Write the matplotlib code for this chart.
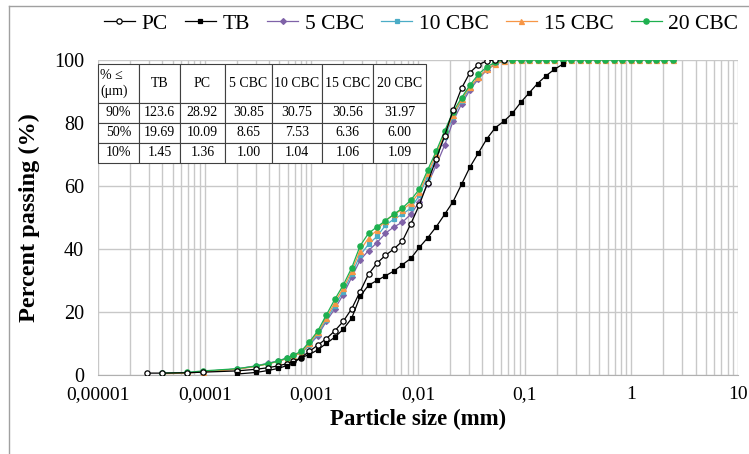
import numpy as np
import matplotlib.pyplot as plt
from matplotlib.lines import Line2D
from matplotlib.ticker import LogLocator, NullFormatter

plt.rcParams['font.family'] = ['Liberation Serif', 'DejaVu Serif']

nan = np.nan

# particle size classes (mm)
size_mm = [2.9e-5, 4.0e-5, 6.8e-5, 9.6e-5, 2.0e-4, 3.0e-4, 3.9e-4, 4.9e-4, 5.9e-4, 6.8e-4,
           0.00080, 0.00096, 0.00115, 0.00138, 0.00166, 0.00199, 0.00239, 0.00287, 0.00344, 0.00413,
           0.00496, 0.00595, 0.00714, 0.00857, 0.0103, 0.0123, 0.0148, 0.0178, 0.0213, 0.0256,
           0.0307, 0.0369, 0.0443, 0.0531, 0.0637, 0.0765, 0.0918, 0.110, 0.132, 0.159,
           0.190, 0.229, 0.274, 0.329, 0.395, 0.474, 0.569, 0.683, 0.819, 0.983,
           1.18, 1.42, 1.70, 2.04, 2.45]

# cumulative percent passing
pc = [0.6, 0.6, 0.7, 0.9, 1.3, 1.8, 2.3, 2.9, 3.6, 4.3,
      5.5, 7.5, 9.5, 11.5, 14, 17, 21, 26.5, 32, 35.5,
      38, 40, 42.5, 48, 54, 61, 68.5, 76, 84, 91,
      96, 98.5, 99.7, 100, 100] + [nan] * 20
tb = [nan, nan, nan, nan, 0.3, 0.8, 1.4, 2.1, 3.0, 3.9,
      5.5, 6.5, 8, 10, 12, 14.5, 18, 25, 28.5, 30,
      31.5, 33, 35, 37, 40.5, 43.5, 47, 51, 55, 60.5,
      66, 70.5, 75, 78.5, 80.5, 83, 86.5, 89.5, 92.5, 95,
      97, 98.7] + [nan] * 13
cbc5 = [nan, 0.5, 0.7, 1.1, 1.9, 2.9, 3.7, 4.5, 5.4, 6.2,
        7, 9.5, 12.5, 17, 21, 25.5, 31, 36.5, 39.5, 42,
        45, 47, 48.5, 51, 55, 60.5, 66.5, 73, 80.5, 86,
        90.5, 94, 96.8, 98.7, 99.6] + [100] * 20
cbc10 = [nan, 0.5, 0.7, 1.1, 1.9, 2.8, 3.6, 4.4, 5.3, 6.1,
         7, 9.5, 13, 17.5, 22, 26.5, 32, 38, 41.5, 44,
         47.5, 49.5, 51, 53, 57, 63, 69, 75.5, 82, 87,
         91, 94.5, 97, 98.8, 99.7] + [100] * 20
cbc15 = [nan, 0.4, 0.6, 1.0, 1.8, 2.7, 3.5, 4.3, 5.2, 6.0,
         7, 10, 13.5, 18, 23, 27.5, 33, 39.5, 43.5, 46,
         49, 51, 52.5, 54.5, 58, 64, 70, 76.5, 82.5, 87.5,
         91.5, 94.5, 97, 98.8, 99.6] + [100] * 20
cbc20 = [nan, 0.6, 0.8, 1.3, 2.0, 2.8, 3.6, 4.4, 5.4, 6.3,
         7.5, 10.5, 14, 19, 24, 28.5, 34, 41, 45, 47,
         49, 51, 53, 55.5, 59, 65, 71, 77.5, 83.5, 88,
         92, 95.5, 97.8, 99.3, 100] + [100] * 20

# D90 / D50 / D10 table (um)
table_cols = ['% \u2264\n(\u03bcm)', 'TB', 'PC', '5 CBC', '10 CBC', '15 CBC', '20 CBC']
table_rows = [['90%', '123.6', '28.92', '30.85', '30.75', '30.56', '31.97'],
              ['50%', '19.69', '10.09', '8.65', '7.53', '6.36', '6.00'],
              ['10%', '1.45', '1.36', '1.00', '1.04', '1.06', '1.09']]

x_ticks = [1e-5, 1e-4, 1e-3, 1e-2, 1e-1, 1, 10]
x_tick_labels = ['0,00001', '0,0001', '0,001', '0,01', '0,1', '1', '10']
y_ticks = [0, 20, 40, 60, 80, 100]

fig = plt.figure(figsize=(7.49, 4.54), dpi=100)
ax = fig.add_axes([0.1308, 0.174, 0.8545, 0.694])

series = [
    ('5 CBC', cbc5, '#7F62A8', 'D', '#7F62A8', 3.0),
    ('10 CBC', cbc10, '#4BACC6', 's', '#4BACC6', 3.2),
    ('15 CBC', cbc15, '#F79646', '^', '#F79646', 3.6),
    ('20 CBC', cbc20, '#1DB04F', 'o', '#1DB04F', 3.8),
    ('PC', pc, 'black', 'o', 'white', 3.8),
    ('TB', tb, 'black', 's', 'black', 3.2),
]
lines = {}
for name, vals, col, mk, face, ms in series:
    ln, = ax.plot(size_mm, vals, color=col, lw=0.9, marker=mk, ms=ms,
                  mfc=face, mec=col, mew=0.9, zorder=3)
    lines[name] = ln

ax.set_xscale('log')
ax.set_xlim(1e-5, 10)
ax.set_ylim(0, 100)
ax.set_xticks(x_ticks)
ax.set_xticklabels(x_tick_labels, fontsize=14)
ax.xaxis.set_minor_locator(LogLocator(base=10, subs=range(2, 10)))
ax.xaxis.set_minor_formatter(NullFormatter())
ax.set_yticks(y_ticks)
ax.set_yticklabels([str(v) for v in y_ticks], fontsize=14.5)
ax.tick_params(which='both', length=0)
ax.tick_params(axis='x', pad=8)
ax.tick_params(axis='y', pad=10)

ax.grid(which='both', axis='x', color='#C8C8C8', lw=1.0)
ax.grid(which='major', axis='y', color='#C8C8C8', lw=1.0)
ax.set_axisbelow(True)
for side in ['top', 'right', 'left']:
    ax.spines[side].set_visible(False)
ax.spines['bottom'].set_color('#B0B0B0')

ax.set_xlabel('Particle size (mm)', fontsize=16.5, fontweight='bold', labelpad=4)
ax.set_ylabel('Percent passing (%)', fontsize=17.5, fontweight='bold', labelpad=10)

# summary table in the upper left corner
tab = ax.table(cellText=table_rows, colLabels=table_cols, cellLoc='center',
               bbox=[0.0, 0.673, 0.5125, 0.314], zorder=5)
tab.auto_set_font_size(False)
col_w = [41, 41, 45, 47, 50, 51, 53]
for (r, c), cell in tab.get_celld().items():
    cell.set_width(col_w[c])
    cell.set_height(39 if r == 0 else 20)
    cell.set_edgecolor('#404040')
    cell.set_linewidth(0.8)
    cell.set_facecolor('white')
    cell.get_text().set_fontsize(10)
    if r == 0 and c == 0:
        cell.get_text().set_ha('left')
        cell.PAD = 0.06

order = ['PC', 'TB', '5 CBC', '10 CBC', '15 CBC', '20 CBC']
fig.legend([lines[k] for k in order], order, loc='center', ncol=6,
           bbox_to_anchor=(0.562, 0.948), frameon=False, fontsize=15.5,
           handlelength=1.45, handletextpad=0.3, columnspacing=0.8,
           borderpad=0.2)

# chart frame
fig.add_artist(Line2D([9 / 749, 9 / 749], [0, 1 - 6 / 454], color='#A0A0A0', lw=1.0))
fig.add_artist(Line2D([9 / 749, 1], [1 - 6 / 454, 1 - 6 / 454], color='#A0A0A0', lw=1.0))

fig.savefig('out.png', dpi=100)
